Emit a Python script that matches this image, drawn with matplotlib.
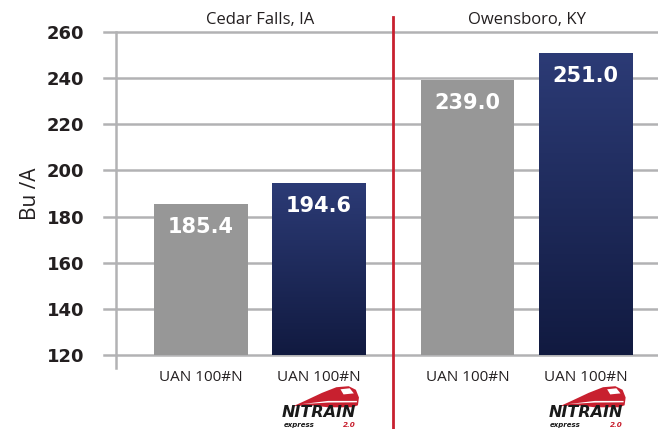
import matplotlib
matplotlib.use("Agg")
import matplotlib.pyplot as plt
import matplotlib.transforms as mtransforms
from matplotlib.offsetbox import DrawingArea, AnnotationBbox
from matplotlib.patches import Polygon
from matplotlib.colors import LinearSegmentedColormap
import numpy as np

# ── data ──────────────────────────────────────────────────────────────────────
sites = ["Cedar Falls, IA", "Owensboro, KY"]
treatments = ["UAN 100#N", "UAN 100#N"]          # grower standard, NITRAIN express 2.0
yields_cedar = [185.4, 194.6]
yields_owens = [239.0, 251.0]
yticks = [120, 140, 160, 180, 200, 220, 240, 260]

# ── style ─────────────────────────────────────────────────────────────────────
plt.rcParams["font.family"] = ["Open Sans", "DejaVu Sans"]
GRAY = "#979797"
NAVY_TOP = "#2c3b76"
NAVY_BOT = "#111a40"
GRID = "#b2b2b4"
RED = "#c8202f"
TXT = "#231f20"

pos = [0.0, 1.0, 2.26, 3.26]
vals = yields_cedar + yields_owens
colors = [GRAY, "none", GRAY, "none"]
width = 0.79

fig = plt.figure(figsize=(6.58, 4.29), dpi=100)
ax = fig.add_axes([104 / 658, 1 - 355 / 429, 1 - 104 / 658, (355 - 32) / 429])
ax.set_xlim(-0.822, 3.873)
ax.set_ylim(120, 260)

for s in ax.spines.values():
    s.set_visible(False)

for y in yticks:
    ax.axhline(y, color=GRID, linewidth=1.8, zorder=1, clip_on=False)
ax.axvline(-0.72, ymin=-0.04, ymax=1.0, color=GRID, linewidth=1.8, zorder=1, clip_on=False)

bars = ax.bar(pos, [v - 120 for v in vals], bottom=120, width=width,
              color=colors, zorder=2)

# gradient fill for the NITRAIN bars
cmap = LinearSegmentedColormap.from_list("navy", [NAVY_BOT, NAVY_TOP])
grad = np.linspace(0, 1, 256).reshape(-1, 1)
for b in (bars[1], bars[3]):
    x0, w = b.get_x(), b.get_width()
    y1 = b.get_y() + b.get_height()
    im = ax.imshow(grad, cmap=cmap, origin="lower", aspect="auto",
                   extent=(x0, x0 + w, 120, y1), zorder=2)
    im.set_clip_path(b)
ax.set_xlim(-0.822, 3.873)
ax.set_ylim(120, 260)

for p, v in zip(pos, vals):
    ax.annotate(f"{v:.1f}", (p, v), xytext=(0, -16.5), textcoords="offset points",
                ha="center", va="center", color="white", fontsize=15,
                fontweight="bold", family=["DejaVu Sans"], zorder=3)

# group separator
trans = mtransforms.blended_transform_factory(ax.transData, ax.transAxes)
ax.plot([1.627, 1.627], [-0.235, 1.047], color=RED, linewidth=2,
        transform=trans, clip_on=False, zorder=4)

# site titles
ax.text(0.5, 1.037, sites[0], transform=trans, ha="center", va="center",
        fontsize=12, color=TXT)
ax.text(2.76, 1.037, sites[1], transform=trans, ha="center", va="center",
        fontsize=12, color=TXT)

ax.set_yticks(yticks)
ax.set_yticklabels([str(t) for t in yticks], fontsize=13, fontweight="bold",
                   family=["DejaVu Sans"], color=TXT)
ax.tick_params(axis="y", length=0, pad=14)
ax.set_xticks(pos)
ax.set_xticklabels(treatments * 2, fontsize=11, color=TXT)
ax.tick_params(axis="x", length=0, pad=11)
ax.set_ylabel("Bu /A", fontsize=15, color=TXT, labelpad=4)


# NITRAIN express 2.0 logo under the product bars
def logo(xc):
    k = 0.74
    da = DrawingArea(64 * k, 22 * k, 0, 0)
    body = [(0, 2), (12, 7.5), (28, 15), (42, 20.5), (54, 21.5), (61, 18),
            (64, 10.5), (63, 3), (58, 1), (34, 1), (16, 3)]
    win = [(46, 18.5), (55, 19.5), (59, 14.5), (49, 13.5)]
    stripe = [(8, 4), (34, 7.2), (62, 7.2), (62, 5.8), (34, 5.6)]
    for pts, fc in ((body, RED), (win, "white"), (stripe, "white")):
        da.add_artist(Polygon([(x * k, y * k) for x, y in pts], closed=True,
                              fc=fc, ec="none"))
    ab = AnnotationBbox(da, (xc + 0.06, -0.13), xycoords=trans, frameon=False,
                        box_alignment=(0.5, 0.5), annotation_clip=False)
    ax.add_artist(ab)
    ax.text(xc, -0.178, "NITRAIN", transform=trans, ha="center", va="center",
            fontsize=11.5, fontweight="heavy", fontstyle="italic",
            family=["DejaVu Sans"], color="#1a1a1a")
    ax.text(xc - 0.17, -0.216, "express", transform=trans, ha="center",
            va="center", fontsize=5, fontweight="bold", fontstyle="italic",
            family=["DejaVu Sans"], color="#1a1a1a")
    ax.text(xc + 0.26, -0.218, "2.0", transform=trans, ha="center", va="center",
            fontsize=5.2, fontweight="bold", fontstyle="italic",
            family=["DejaVu Sans"], color=RED)


logo(pos[1])
logo(pos[3])

fig.savefig("out.png", dpi=100)
